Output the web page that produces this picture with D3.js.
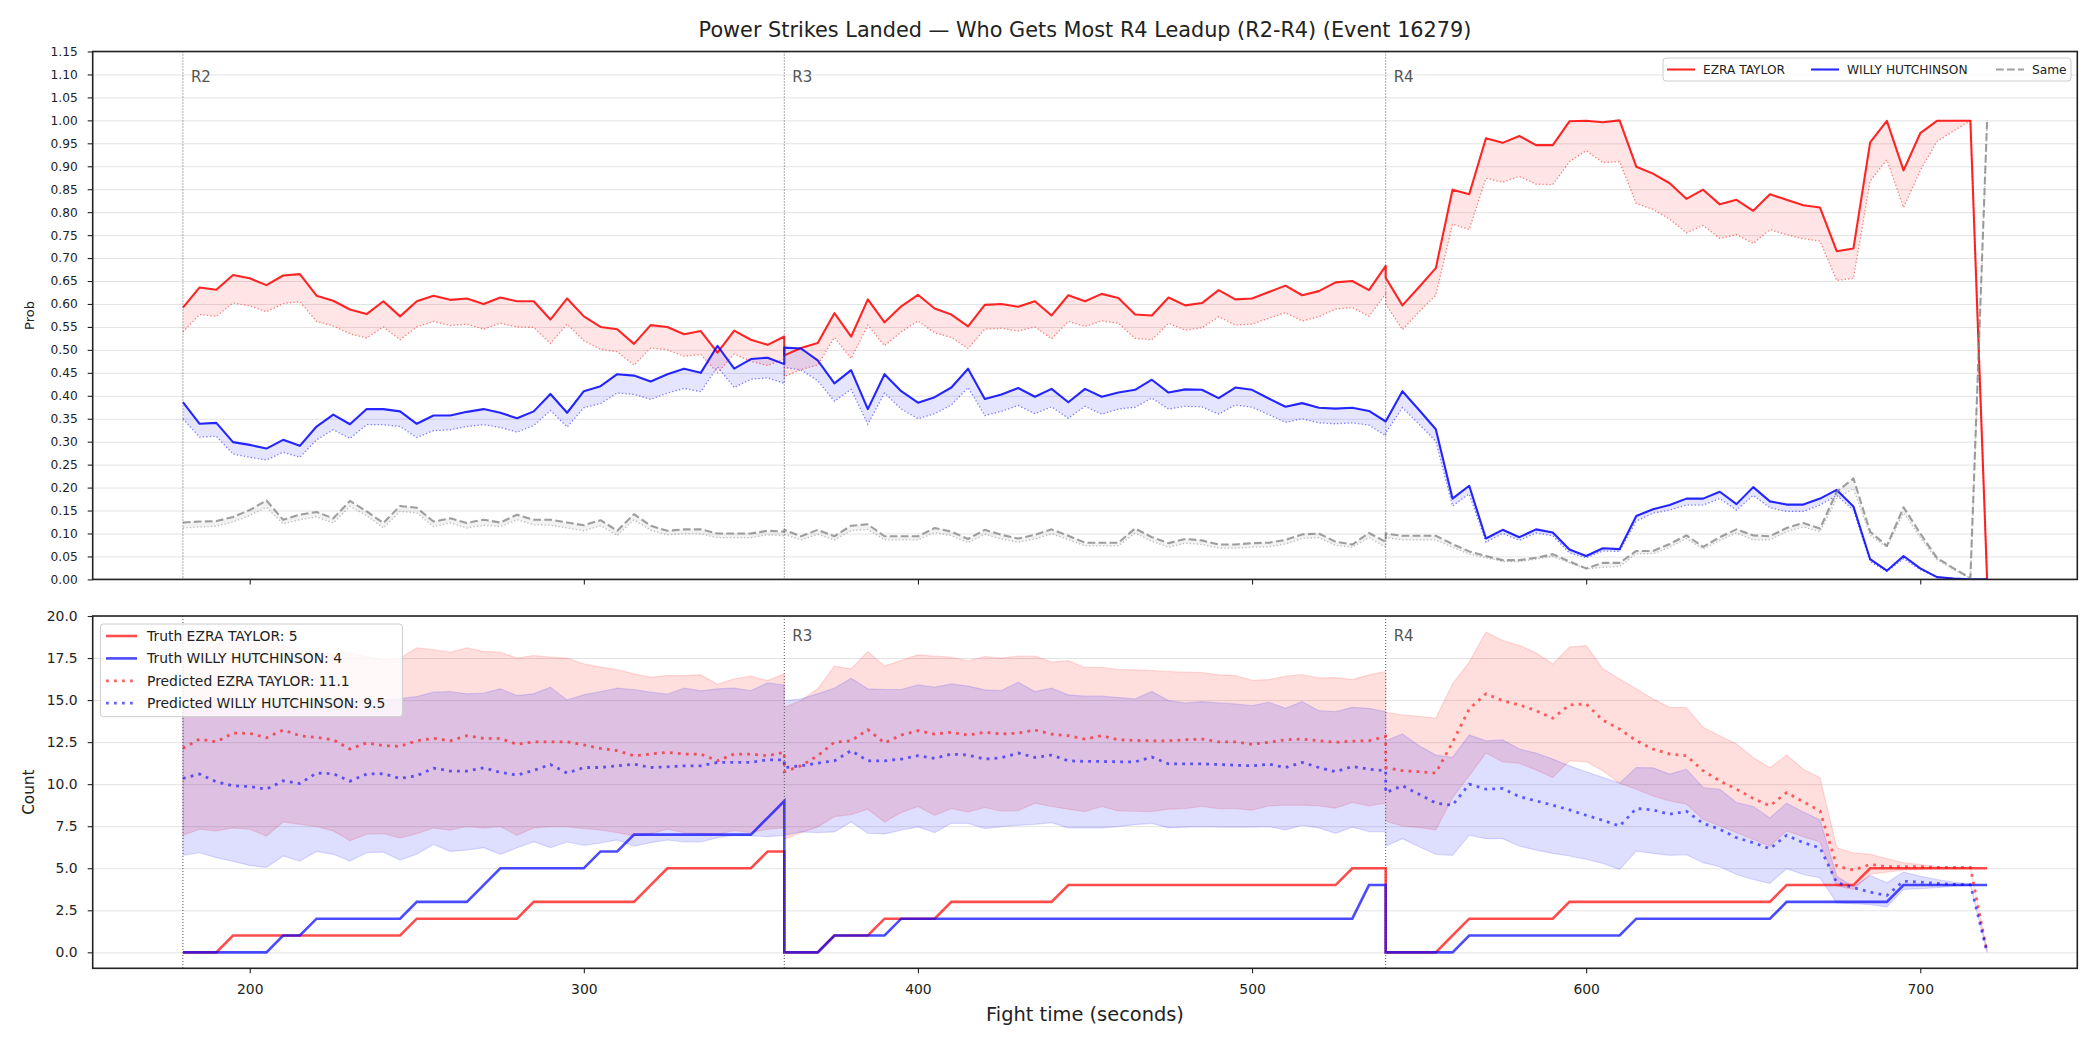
<!DOCTYPE html>
<html lang="en">
<head>
    <meta charset="UTF-8">
    <title>Power Strikes Landed</title>
    <script src="https://d3js.org/d3.v7.min.js"></script>
    <style>
        body { margin: 0; background: #fff; }
        svg { display: block; font-family: "DejaVu Sans", sans-serif; }
    </style>
</head>
<body>
    <div id="chart"></div>

<script>
    // Rounds shown: R2..R4, one point every 5 seconds, 37 points per round
    const roundNames = ["R2", "R3", "R4"];
    const roundStart = [180, 360, 540];
    const stepSec = 5;
    const ptsPerRound = 37;

    // Top panel: win probability (solid) and lower dotted edge, R2 | R3 | R4
    const ezraProb = [
        0.592, 0.636, 0.631, 0.663, 0.656, 0.641, 0.662, 0.665, 0.618, 0.607, 0.588, 0.578, 0.606, 0.573, 0.606, 0.618, 0.609, 0.612, 0.600, 0.614, 0.606, 0.606, 0.566, 0.612, 0.573, 0.550, 0.545, 0.513, 0.554, 0.550, 0.534, 0.541, 0.494, 0.542, 0.522, 0.511, 0.529,
        0.488, 0.504, 0.515, 0.580, 0.529, 0.610, 0.560, 0.595, 0.620, 0.590, 0.577, 0.551, 0.598, 0.600, 0.594, 0.606, 0.575, 0.619, 0.606, 0.622, 0.613, 0.577, 0.575, 0.614, 0.597, 0.602, 0.630, 0.610, 0.612, 0.626, 0.640, 0.619, 0.628, 0.647, 0.650, 0.630, 0.683,
        0.657, 0.597, 0.637, 0.678, 0.849, 0.839, 0.961, 0.951, 0.966, 0.946, 0.946, 0.998, 0.999, 0.996, 1.000, 0.899, 0.884, 0.863, 0.829, 0.849, 0.817, 0.827, 0.803, 0.839, 0.827, 0.815, 0.810, 0.715, 0.721, 0.952, 0.999, 0.891, 0.972, 0.999, 0.999, 0.999, 0.000];
    const ezraProbLow = [
        0.539, 0.577, 0.573, 0.602, 0.596, 0.583, 0.601, 0.605, 0.562, 0.552, 0.535, 0.526, 0.550, 0.522, 0.550, 0.562, 0.553, 0.556, 0.545, 0.558, 0.550, 0.549, 0.514, 0.556, 0.520, 0.501, 0.496, 0.467, 0.504, 0.500, 0.486, 0.490, 0.450, 0.491, 0.475, 0.466, 0.480,
        0.442, 0.457, 0.467, 0.527, 0.481, 0.554, 0.509, 0.539, 0.563, 0.537, 0.527, 0.503, 0.545, 0.547, 0.541, 0.550, 0.524, 0.562, 0.551, 0.563, 0.558, 0.525, 0.522, 0.558, 0.543, 0.548, 0.572, 0.554, 0.556, 0.569, 0.581, 0.563, 0.572, 0.589, 0.592, 0.573, 0.622,
        0.600, 0.544, 0.583, 0.619, 0.774, 0.762, 0.874, 0.865, 0.878, 0.861, 0.860, 0.910, 0.934, 0.908, 0.910, 0.819, 0.806, 0.785, 0.755, 0.771, 0.743, 0.751, 0.732, 0.762, 0.751, 0.742, 0.737, 0.651, 0.656, 0.868, 0.914, 0.810, 0.891, 0.954, 0.977, 0.999, 0.000];
    const willyProb = [
        0.386, 0.339, 0.341, 0.299, 0.293, 0.285, 0.304, 0.291, 0.333, 0.359, 0.338, 0.371, 0.371, 0.366, 0.339, 0.357, 0.357, 0.365, 0.371, 0.363, 0.351, 0.366, 0.404, 0.363, 0.410, 0.421, 0.447, 0.444, 0.431, 0.447, 0.459, 0.450, 0.509, 0.459, 0.480, 0.483, 0.469,
        0.505, 0.503, 0.477, 0.427, 0.456, 0.371, 0.447, 0.410, 0.385, 0.397, 0.418, 0.459, 0.393, 0.403, 0.417, 0.398, 0.415, 0.386, 0.415, 0.398, 0.407, 0.413, 0.435, 0.407, 0.414, 0.413, 0.395, 0.418, 0.413, 0.394, 0.376, 0.384, 0.374, 0.372, 0.374, 0.367, 0.344,
        0.344, 0.410, 0.369, 0.327, 0.176, 0.204, 0.089, 0.108, 0.092, 0.109, 0.102, 0.065, 0.051, 0.068, 0.066, 0.138, 0.153, 0.162, 0.176, 0.176, 0.191, 0.164, 0.201, 0.170, 0.163, 0.163, 0.176, 0.195, 0.159, 0.044, 0.019, 0.051, 0.024, 0.005, 0.002, 0.000, 0.000];
    const willyProbLow = [
        0.350, 0.310, 0.312, 0.273, 0.266, 0.260, 0.277, 0.266, 0.304, 0.326, 0.307, 0.337, 0.337, 0.333, 0.309, 0.324, 0.326, 0.333, 0.337, 0.331, 0.321, 0.335, 0.368, 0.332, 0.374, 0.383, 0.406, 0.403, 0.392, 0.406, 0.416, 0.409, 0.463, 0.418, 0.436, 0.439, 0.427,
        0.462, 0.456, 0.433, 0.388, 0.414, 0.338, 0.406, 0.371, 0.350, 0.361, 0.380, 0.418, 0.357, 0.366, 0.379, 0.361, 0.376, 0.351, 0.377, 0.360, 0.371, 0.375, 0.395, 0.371, 0.377, 0.376, 0.360, 0.380, 0.375, 0.359, 0.342, 0.350, 0.341, 0.339, 0.341, 0.336, 0.313,
        0.319, 0.374, 0.338, 0.301, 0.160, 0.186, 0.081, 0.100, 0.085, 0.101, 0.095, 0.058, 0.047, 0.062, 0.061, 0.127, 0.144, 0.151, 0.162, 0.162, 0.176, 0.151, 0.183, 0.156, 0.148, 0.148, 0.162, 0.183, 0.151, 0.039, 0.017, 0.045, 0.021, 0.005, 0.002, 0.000, 0.000];
    const sameProb = [
        0.124, 0.126, 0.127, 0.136, 0.151, 0.172, 0.130, 0.141, 0.147, 0.133, 0.171, 0.148, 0.123, 0.160, 0.156, 0.126, 0.133, 0.123, 0.130, 0.124, 0.141, 0.130, 0.130, 0.124, 0.118, 0.129, 0.106, 0.142, 0.117, 0.106, 0.109, 0.109, 0.100, 0.100, 0.100, 0.106, 0.104,
        0.108, 0.094, 0.108, 0.094, 0.117, 0.120, 0.094, 0.094, 0.094, 0.112, 0.104, 0.088, 0.108, 0.097, 0.089, 0.097, 0.109, 0.095, 0.080, 0.080, 0.080, 0.111, 0.092, 0.079, 0.088, 0.085, 0.076, 0.076, 0.079, 0.080, 0.086, 0.098, 0.100, 0.082, 0.076, 0.101, 0.082,
        0.100, 0.095, 0.095, 0.095, 0.077, 0.061, 0.051, 0.042, 0.042, 0.047, 0.055, 0.039, 0.024, 0.036, 0.036, 0.062, 0.062, 0.077, 0.096, 0.071, 0.092, 0.109, 0.096, 0.094, 0.112, 0.123, 0.111, 0.191, 0.220, 0.104, 0.073, 0.157, 0.100, 0.047, 0.024, 0.003, 1.000];
    const sameProbLow = [
        0.112, 0.114, 0.116, 0.125, 0.139, 0.157, 0.121, 0.130, 0.136, 0.123, 0.159, 0.139, 0.112, 0.148, 0.145, 0.115, 0.123, 0.112, 0.118, 0.115, 0.130, 0.119, 0.118, 0.112, 0.106, 0.117, 0.096, 0.130, 0.107, 0.097, 0.099, 0.099, 0.091, 0.091, 0.091, 0.097, 0.095,
        0.098, 0.086, 0.098, 0.086, 0.106, 0.109, 0.086, 0.086, 0.086, 0.102, 0.095, 0.080, 0.098, 0.088, 0.081, 0.088, 0.099, 0.087, 0.073, 0.073, 0.073, 0.101, 0.083, 0.070, 0.079, 0.076, 0.068, 0.068, 0.070, 0.071, 0.077, 0.089, 0.091, 0.074, 0.070, 0.091, 0.070,
        0.091, 0.086, 0.086, 0.086, 0.070, 0.055, 0.047, 0.039, 0.039, 0.044, 0.050, 0.036, 0.023, 0.026, 0.028, 0.056, 0.056, 0.070, 0.089, 0.066, 0.085, 0.101, 0.086, 0.086, 0.104, 0.114, 0.104, 0.176, 0.198, 0.096, 0.070, 0.145, 0.091, 0.043, 0.021, 0.002, 1.000];

    // Bottom panel: cumulative truth counts, predicted totals and their bands
    const ezraTruth = [
        0, 0, 0, 1, 1, 1, 1, 1, 1, 1, 1, 1, 1, 1, 2, 2, 2, 2, 2, 2, 2, 3, 3, 3, 3, 3, 3, 3, 4, 5, 5, 5, 5, 5, 5, 6, 6,
        0, 0, 0, 1, 1, 1, 2, 2, 2, 2, 3, 3, 3, 3, 3, 3, 3, 4, 4, 4, 4, 4, 4, 4, 4, 4, 4, 4, 4, 4, 4, 4, 4, 4, 5, 5, 5,
        0, 0, 0, 0, 1, 2, 2, 2, 2, 2, 2, 3, 3, 3, 3, 3, 3, 3, 3, 3, 3, 3, 3, 3, 4, 4, 4, 4, 4, 5, 5, 5, 5, 5, 5, 5, 5];
    const willyTruth = [
        0, 0, 0, 0, 0, 0, 1, 1, 2, 2, 2, 2, 2, 2, 3, 3, 3, 3, 4, 5, 5, 5, 5, 5, 5, 6, 6, 7, 7, 7, 7, 7, 7, 7, 7, 8, 9,
        0, 0, 0, 1, 1, 1, 1, 2, 2, 2, 2, 2, 2, 2, 2, 2, 2, 2, 2, 2, 2, 2, 2, 2, 2, 2, 2, 2, 2, 2, 2, 2, 2, 2, 2, 4, 4,
        0, 0, 0, 0, 0, 1, 1, 1, 1, 1, 1, 1, 1, 1, 1, 2, 2, 2, 2, 2, 2, 2, 2, 2, 3, 3, 3, 3, 3, 3, 3, 4, 4, 4, 4, 4, 4];
    const ezraPred = [
        12.13, 12.68, 12.52, 13.04, 13.02, 12.76, 13.22, 12.88, 12.78, 12.64, 12.09, 12.45, 12.29, 12.25, 12.58, 12.72, 12.58, 12.88, 12.72, 12.72, 12.37, 12.52, 12.52, 12.52, 12.33, 12.13, 11.99, 11.69, 11.79, 11.89, 11.79, 11.79, 11.39, 11.79, 11.79, 11.69, 11.89,
        10.74, 11.09, 11.69, 12.49, 12.58, 13.24, 12.45, 12.92, 13.18, 12.98, 13.08, 12.92, 13.08, 12.98, 13.04, 13.22, 12.98, 12.88, 12.68, 12.88, 12.64, 12.60, 12.58, 12.58, 12.64, 12.68, 12.52, 12.52, 12.37, 12.49, 12.64, 12.68, 12.58, 12.49, 12.56, 12.58, 12.84,
        10.99, 10.80, 10.74, 10.66, 12.49, 14.47, 15.37, 14.97, 14.71, 14.37, 13.92, 14.71, 14.77, 13.80, 13.28, 12.58, 12.09, 11.79, 11.69, 10.80, 10.20, 9.70, 9.15, 8.71, 9.50, 8.95, 8.41, 5.13, 4.89, 5.23, 5.09, 5.09, 5.09, 5.05, 5.05, 5.05, 0];
    const willyPred = [
        10.34, 10.60, 10.14, 9.90, 9.86, 9.70, 10.20, 10.04, 10.66, 10.62, 10.18, 10.60, 10.62, 10.34, 10.50, 10.95, 10.78, 10.78, 10.97, 10.70, 10.54, 10.82, 11.17, 10.66, 10.99, 10.99, 11.09, 11.19, 10.99, 11.03, 11.09, 11.09, 11.29, 11.29, 11.29, 11.45, 11.45,
        10.99, 11.09, 11.25, 11.39, 11.99, 11.39, 11.39, 11.49, 11.69, 11.53, 11.79, 11.73, 11.49, 11.57, 11.85, 11.59, 11.73, 11.39, 11.35, 11.35, 11.33, 11.33, 11.61, 11.21, 11.21, 11.21, 11.17, 11.13, 11.09, 11.19, 10.99, 11.29, 10.99, 10.74, 11.05, 10.89, 10.80,
        9.50, 9.90, 9.40, 8.87, 8.75, 10.00, 9.70, 9.74, 9.26, 9.01, 8.75, 8.47, 8.15, 7.85, 7.51, 8.55, 8.47, 8.21, 8.39, 7.67, 7.32, 6.82, 6.52, 6.16, 6.96, 6.52, 6.22, 4.14, 3.84, 3.58, 3.38, 4.23, 4.17, 4.10, 4.04, 4.02, 0];
    const ezraPredHi = [
        17.0, 18.0, 18.3, 18.7, 18.6, 18.4, 18.2, 18.0, 17.9, 17.7, 17.8, 17.6, 17.4, 17.5, 18.1, 18.0, 17.85, 18.1, 17.9, 17.85, 17.5, 17.65, 17.55, 17.5, 17.15, 16.96, 16.82, 16.56, 16.36, 16.46, 16.46, 16.50, 15.94, 16.26, 16.42, 16.16, 16.56,
        14.57, 14.97, 15.67, 17.02, 16.86, 17.89, 17.02, 17.36, 17.69, 17.61, 17.55, 17.34, 17.59, 17.50, 17.61, 17.61, 17.26, 17.34, 16.94, 16.94, 16.82, 16.80, 16.76, 16.70, 16.66, 16.64, 16.50, 16.46, 16.18, 16.22, 16.42, 16.52, 16.32, 16.34, 16.22, 16.50, 16.70,
        14.27, 14.12, 14.04, 13.92, 15.96, 17.26, 19.05, 18.55, 18.25, 17.81, 17.14, 18.15, 18.25, 16.86, 16.26, 15.67, 15.07, 14.57, 14.55, 13.38, 12.88, 12.39, 11.59, 10.97, 11.73, 10.89, 10.38, 6.22, 5.92, 5.83, 5.57, 5.33, 5.23, 5.09, 5.01, 5.01, 0.1];
    const ezraPredLo = [
        6.96, 7.32, 7.22, 7.40, 7.32, 6.92, 7.75, 7.61, 7.48, 7.22, 6.64, 7.02, 7.06, 6.80, 7.06, 7.40, 7.26, 7.48, 7.40, 7.48, 6.96, 7.40, 7.48, 7.48, 7.36, 7.28, 7.12, 6.92, 7.06, 7.32, 7.12, 7.06, 7.02, 7.24, 7.12, 7.32, 7.40,
        6.72, 7.12, 7.46, 8.07, 8.19, 8.51, 7.75, 8.31, 8.67, 8.15, 8.55, 8.35, 8.61, 8.39, 8.43, 8.87, 8.67, 8.51, 8.37, 8.67, 8.41, 8.39, 8.37, 8.51, 8.55, 8.67, 8.55, 8.55, 8.45, 8.71, 8.75, 8.75, 8.71, 8.57, 8.91, 8.71, 8.87,
        7.81, 7.51, 7.42, 7.28, 9.20, 10.50, 11.85, 11.33, 11.25, 10.85, 10.40, 11.39, 11.33, 10.80, 10.06, 9.70, 9.30, 9.01, 8.81, 7.91, 7.51, 7.12, 6.72, 6.32, 7.22, 6.88, 6.56, 3.94, 3.74, 4.63, 4.77, 4.89, 4.93, 5.01, 5.03, 5.05, 0];
    const willyPredHi = [
        14.6, 14.8, 14.7, 14.5, 14.6, 14.6, 14.8, 14.7, 14.9, 15.0, 14.9, 15.0, 15.0, 15.1, 15.21, 15.47, 15.51, 15.37, 15.41, 15.67, 15.27, 15.37, 15.77, 15.01, 15.31, 15.51, 15.71, 15.63, 15.47, 15.35, 15.71, 15.55, 15.67, 15.71, 15.57, 16.02, 15.90,
        14.97, 15.07, 15.37, 15.71, 16.30, 15.67, 15.63, 15.63, 15.90, 15.77, 15.96, 15.83, 15.61, 15.57, 16.06, 15.51, 15.71, 15.31, 15.23, 15.23, 15.15, 15.07, 15.51, 14.97, 14.83, 14.91, 14.83, 14.77, 14.67, 14.87, 14.51, 14.91, 14.37, 14.31, 14.57, 14.51, 14.31,
        12.58, 12.98, 12.29, 11.73, 11.59, 12.92, 12.58, 12.64, 12.09, 11.85, 11.49, 11.09, 10.74, 10.40, 10.06, 10.99, 10.97, 10.60, 10.89, 9.80, 9.70, 8.91, 8.67, 7.99, 8.87, 8.35, 7.87, 4.53, 3.90, 4.57, 4.14, 4.77, 4.53, 4.33, 4.17, 4.06, 0.1];
    const willyPredLo = [
        5.77, 5.92, 5.63, 5.41, 5.17, 5.05, 5.73, 5.43, 6.00, 5.83, 5.43, 5.92, 5.96, 5.49, 5.83, 6.42, 6.00, 6.08, 6.22, 5.83, 6.22, 6.58, 6.22, 6.56, 6.36, 6.50, 6.68, 6.32, 6.52, 6.68, 6.56, 6.56, 6.82, 6.96, 6.92, 6.88, 6.96,
        6.96, 7.16, 7.12, 7.16, 7.75, 7.08, 7.04, 7.26, 7.46, 7.12, 7.67, 7.67, 7.36, 7.48, 7.55, 7.61, 7.71, 7.40, 7.40, 7.40, 7.48, 7.59, 7.67, 7.40, 7.44, 7.48, 7.44, 7.44, 7.44, 7.48, 7.28, 7.55, 7.40, 7.08, 7.44, 7.18, 7.18,
        6.32, 6.76, 6.28, 5.83, 5.77, 6.96, 6.76, 6.76, 6.32, 6.08, 5.88, 5.73, 5.53, 5.28, 4.93, 6.02, 5.88, 5.77, 5.81, 5.33, 5.09, 4.63, 4.33, 4.10, 4.97, 4.63, 4.43, 2.94, 2.90, 2.84, 2.70, 3.74, 3.78, 3.84, 3.94, 3.98, 0];

    const topLegend = ["EZRA TAYLOR", "WILLY HUTCHINSON", "Same"];
    const bottomLegend = ["Truth EZRA TAYLOR: 5", "Truth WILLY HUTCHINSON: 4",
                          "Predicted EZRA TAYLOR: 11.1", "Predicted WILLY HUTCHINSON: 9.5"];
    const xTicks = [200, 300, 400, 500, 600, 700];

    // time of every sample (round boundaries appear twice: end of one round, start of the next)
    const fightTime = roundStart.flatMap(s => d3.range(ptsPerRound).map(i => s + i * stepSec));
    const idx = d3.range(fightTime.length);

    // Layout
    const W = 2100, H = 1050;
    const left = 92.7, right = 2077.3;
    const topP = {y0: 51.5, y1: 579.4};
    const botP = {y0: 616, y1: 968.3};
    const FONT = "DejaVu Sans";

    const svg = d3.select("#chart").append("svg")
        .attr("width", W).attr("height", H);

    const x = d3.scaleLinear().domain([153, 747]).range([left, right]);
    const yTop = d3.scaleLinear().domain([0, 1.15]).range([topP.y1, topP.y0]);
    const yBot = d3.scaleLinear().domain([-0.95, 20]).range([botP.y1, botP.y0]);

    // clip paths so the curves stay inside their axes
    const defs = svg.append("defs");
    [["clipTop", topP], ["clipBot", botP]].forEach(([id, p]) => {
        defs.append("clipPath").attr("id", id).append("rect")
            .attr("x", left).attr("y", p.y0)
            .attr("width", right - left).attr("height", p.y1 - p.y0);
    });

    // Horizontal grid + y axis + x axis for one panel
    function drawFrame(y, p, yTicks, fmt, tickFont, showXLabels) {
        svg.append("g")
            .attr("transform", `translate(${left},0)`)
            .call(d3.axisLeft(y).tickValues(yTicks).tickSize(-(right - left)).tickFormat(""))
            .call(g => g.select(".domain").remove())
            .call(g => g.selectAll("line").attr("stroke", "#e3e3e3").attr("stroke-width", 1));

        svg.append("g")
            .attr("transform", `translate(${left},0)`)
            .call(d3.axisLeft(y).tickValues(yTicks).tickFormat(fmt).tickSize(5).tickPadding(10))
            .call(g => g.select(".domain").remove())
            .call(g => g.selectAll("line").attr("stroke", "#222").attr("stroke-width", 1.1))
            .call(g => g.selectAll("text").attr("font-family", FONT)
                .attr("font-size", tickFont).attr("fill", "#222"));

        svg.append("g")
            .attr("transform", `translate(0,${p.y1})`)
            .call(d3.axisBottom(x).tickValues(xTicks).tickSize(5).tickPadding(11)
                .tickFormat(showXLabels ? d3.format("d") : ""))
            .call(g => g.select(".domain").remove())
            .call(g => g.selectAll("line").attr("stroke", "#222").attr("stroke-width", 1.1))
            .call(g => g.selectAll("text").attr("font-family", FONT)
                .attr("font-size", 13.9).attr("fill", "#222"));
    }

    function drawFrameBorder(p) {
        svg.append("rect")
            .attr("x", left).attr("y", p.y0)
            .attr("width", right - left).attr("height", p.y1 - p.y0)
            .attr("fill", "none").attr("stroke", "#222").attr("stroke-width", 1.6);
    }

    // Round separators with labels (labels hidden under a legend are skipped)
    function drawRounds(p, labelDy, skipLabels) {
        roundStart.forEach((s, i) => {
            svg.append("line")
                .attr("x1", x(s)).attr("x2", x(s))
                .attr("y1", p.y0).attr("y2", p.y1)
                .attr("stroke", "#555").attr("stroke-width", 1)
                .attr("stroke-dasharray", "1,2");
            if (skipLabels.includes(roundNames[i])) return;
            svg.append("text")
                .attr("x", x(s) + 8).attr("y", p.y0 + labelDy)
                .attr("font-family", FONT).attr("font-size", 15)
                .attr("fill", "#555")
                .text(roundNames[i]);
        });
    }

    const areaOf = (y, lo, hi) => d3.area()
        .x(i => x(fightTime[i])).y0(i => y(lo[i])).y1(i => y(hi[i]))(idx);
    const lineOf = (y, v) => d3.line()
        .x(i => x(fightTime[i])).y(i => y(v[i]))(idx);

    // ---------------- Top panel ----------------
    drawFrame(yTop, topP, d3.range(0, 1.1501, 0.05), d3.format(".2f"), 12.2, false);

    const gTop = svg.append("g").attr("clip-path", "url(#clipTop)");
    const topSeries = [
        {v: ezraProb, lo: ezraProbLow, color: "#ff0000", dash: null},
        {v: willyProb, lo: willyProbLow, color: "#0000ff", dash: null},
        {v: sameProb, lo: sameProbLow, color: "#808080", dash: "7.7,3.3"}
    ];
    topSeries.forEach(s => {
        gTop.append("path").attr("d", areaOf(yTop, s.lo, s.v))
            .attr("fill", s.color).attr("fill-opacity", 0.1);
    });
    topSeries.forEach(s => {
        gTop.append("path").attr("d", lineOf(yTop, s.lo))
            .attr("fill", "none").attr("stroke", s.color).attr("stroke-opacity", 0.5)
            .attr("stroke-width", 1.3).attr("stroke-dasharray", "1.3,2.2");
    });
    topSeries.forEach(s => {
        gTop.append("path").attr("d", lineOf(yTop, s.v))
            .attr("fill", "none").attr("stroke", s.color)
            .attr("stroke-opacity", s.dash ? 0.75 : 0.85)
            .attr("stroke-width", 2.1).attr("stroke-linejoin", "round")
            .attr("stroke-dasharray", s.dash);
    });
    drawRounds(topP, 30, []);
    drawFrameBorder(topP);

    // top legend
    const tl = svg.append("g");
    tl.append("rect").attr("x", 1663).attr("y", 58).attr("width", 408).attr("height", 23)
        .attr("rx", 3).attr("fill", "#fff").attr("fill-opacity", 0.8)
        .attr("stroke", "#ccc").attr("stroke-width", 1);
    const tlX = [1667, 1811, 1996];
    topLegend.forEach((name, i) => {
        const s = topSeries[i];
        tl.append("line").attr("x1", tlX[i]).attr("x2", tlX[i] + 28)
            .attr("y1", 69.5).attr("y2", 69.5)
            .attr("stroke", s.color).attr("stroke-opacity", s.dash ? 0.75 : 0.85)
            .attr("stroke-width", 2.1).attr("stroke-dasharray", s.dash);
        tl.append("text").attr("x", tlX[i] + 36).attr("y", 73.8)
            .attr("font-family", FONT).attr("font-size", 12.2).attr("fill", "#222")
            .text(name);
    });

    svg.append("text")
        .attr("transform", `translate(34,${(topP.y0 + topP.y1) / 2}) rotate(-90)`)
        .attr("text-anchor", "middle")
        .attr("font-family", FONT).attr("font-size", 13).attr("fill", "#222")
        .text("Prob");

    // ---------------- Bottom panel ----------------
    drawFrame(yBot, botP, d3.range(0, 20.01, 2.5), d3.format(".1f"), 13.9, true);

    const gBot = svg.append("g").attr("clip-path", "url(#clipBot)");
    [[ezraPredLo, ezraPredHi, "#ff0000"], [willyPredLo, willyPredHi, "#0000ff"]].forEach(([lo, hi, c]) => {
        gBot.append("path").attr("d", areaOf(yBot, lo, hi))
            .attr("fill", c).attr("fill-opacity", 0.13)
            .attr("stroke", c).attr("stroke-opacity", 0.13).attr("stroke-width", 1.2);
    });
    [[ezraTruth, "#ff0000"], [willyTruth, "#0000ff"]].forEach(([v, c]) => {
        gBot.append("path").attr("d", lineOf(yBot, v))
            .attr("fill", "none").attr("stroke", c).attr("stroke-opacity", 0.7)
            .attr("stroke-width", 2.6);
    });
    [[ezraPred, "#ff0000"], [willyPred, "#0000ff"]].forEach(([v, c]) => {
        gBot.append("path").attr("d", lineOf(yBot, v))
            .attr("fill", "none").attr("stroke", c).attr("stroke-opacity", 0.6)
            .attr("stroke-width", 2.8).attr("stroke-dasharray", "2.8,5.2");
    });
    drawRounds(botP, 25, ["R2"]);
    drawFrameBorder(botP);

    // bottom legend
    const bl = svg.append("g");
    bl.append("rect").attr("x", 100.4).attr("y", 624).attr("width", 302).attr("height", 92.7)
        .attr("rx", 3).attr("fill", "#fff").attr("fill-opacity", 0.8)
        .attr("stroke", "#ccc").attr("stroke-width", 1);
    const blStyle = [
        {c: "#ff0000", dash: null, op: 0.7}, {c: "#0000ff", dash: null, op: 0.7},
        {c: "#ff0000", dash: "2.8,5.2", op: 0.6}, {c: "#0000ff", dash: "2.8,5.2", op: 0.6}
    ];
    bottomLegend.forEach((name, i) => {
        const cy = 636 + i * 22.4;
        bl.append("line").attr("x1", 106).attr("x2", 137).attr("y1", cy).attr("y2", cy)
            .attr("stroke", blStyle[i].c).attr("stroke-opacity", blStyle[i].op)
            .attr("stroke-width", blStyle[i].dash ? 2.8 : 2.6)
            .attr("stroke-dasharray", blStyle[i].dash);
        bl.append("text").attr("x", 147).attr("y", cy + 5)
            .attr("font-family", FONT).attr("font-size", 13.9).attr("fill", "#222")
            .text(name);
    });

    svg.append("text")
        .attr("transform", `translate(34,${(botP.y0 + botP.y1) / 2}) rotate(-90)`)
        .attr("text-anchor", "middle")
        .attr("font-family", FONT).attr("font-size", 15.3).attr("fill", "#222")
        .text("Count");

    svg.append("text")
        .attr("x", (left + right) / 2).attr("y", 1021)
        .attr("text-anchor", "middle")
        .attr("font-family", FONT).attr("font-size", 19.4).attr("fill", "#222")
        .text("Fight time (seconds)");

    // Title
    svg.append("text")
        .attr("x", (left + right) / 2).attr("y", 36.5)
        .attr("text-anchor", "middle")
        .attr("font-family", FONT).attr("font-size", 20.8).attr("fill", "#222")
        .text("Power Strikes Landed — Who Gets Most R4 Leadup (R2-R4) (Event 16279)");
</script>
</body>
</html>
